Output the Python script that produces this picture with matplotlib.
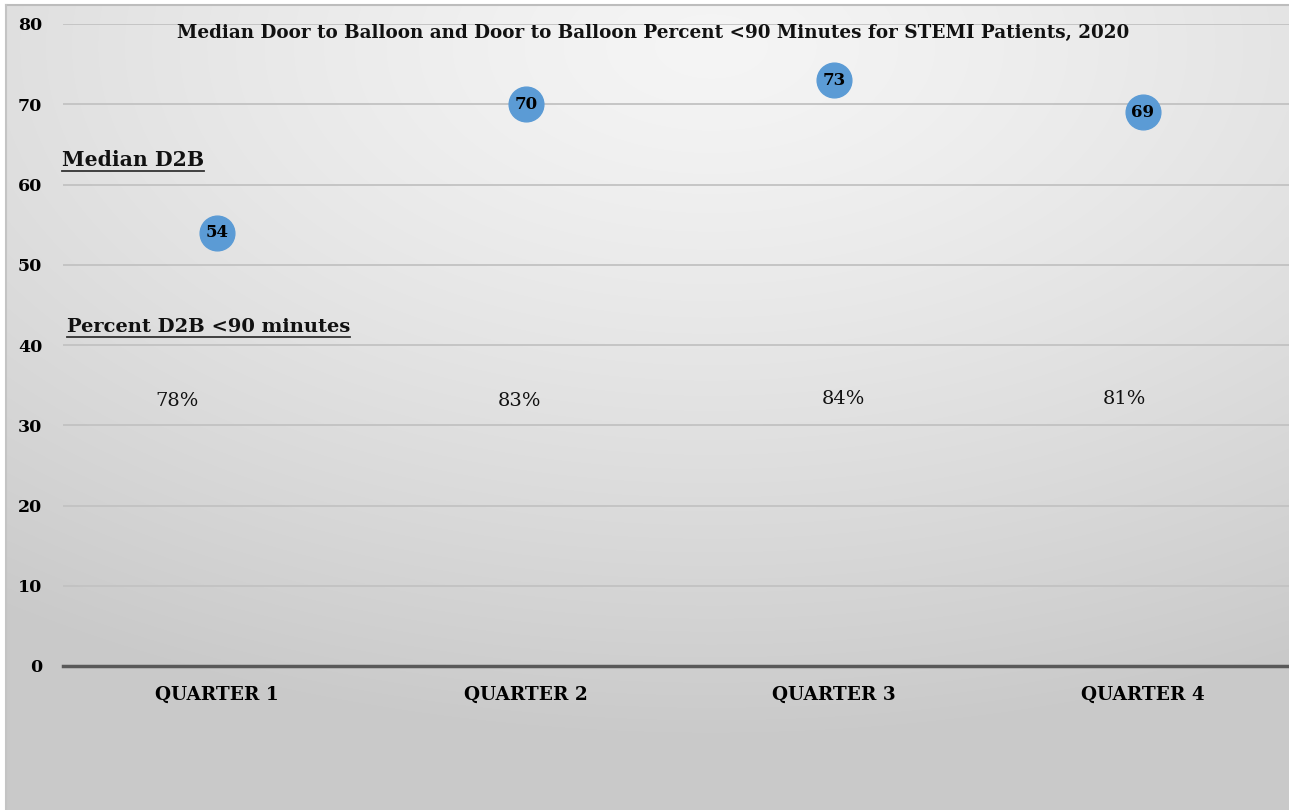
import numpy as np
from matplotlib import pyplot as plt
from matplotlib.lines import Line2D

quarters = ["QUARTER 1", "QUARTER 2", "QUARTER 3", "QUARTER 4"]
median_d2b = [54, 70, 73, 69]
pct_under90 = ["78%", "83%", "84%", "81%"]
pct_y = [33, 33, 33.3, 33.3]
pct_dx = [-0.13, -0.02, 0.03, -0.06]  # label nudges, in category units
yticks = [0, 10, 20, 30, 40, 50, 60, 70, 80]
title = "Median Door to Balloon and Door to Balloon Percent <90 Minutes for STEMI Patients, 2020"

plt.rcParams["font.family"] = ["DejaVu Serif"]
plt.rcParams["font.weight"] = "bold"

W, H = 1289, 810
fig = plt.figure(figsize=(W / 100, H / 100), dpi=100)
fig.patch.set_facecolor("white")

# slide background with soft radial gradient
bg = fig.add_axes([6 / W, 0, 1 - 6 / W, 1 - 5 / H])
yy, xx = np.mgrid[0:1:300j, 0:1:400j]
r = np.sqrt(((xx - 0.55) * 1.0) ** 2 + ((yy - 0.05) * 1.1) ** 2)
val = 0.96 - 0.17 * np.clip(r / 0.95, 0, 1) ** 1.3
bg.imshow(np.dstack([val, val, val]), extent=[0, 1, 1, 0], aspect="auto",
          interpolation="bicubic")
bg.set_xlim(0, 1)
bg.set_ylim(1, 0)
bg.axis("off")
# top/left edge of slide
fig.add_artist(Line2D([6 / W, 1], [1 - 5 / H] * 2, color="#bdbdbd", lw=1.5))
fig.add_artist(Line2D([6 / W] * 2, [0, 1 - 5 / H], color="#c4c4c4", lw=1.5))

# plot area: 0 at y=666, 80 at y=24; x from 63 to 1297
ax = fig.add_axes([63 / W, (H - 666) / H, (1297 - 63) / W, (666 - 24) / H])
ax.patch.set_alpha(0)
x = np.arange(len(quarters))
ax.set_xlim(-0.5, 3.5)
ax.set_ylim(0, 80)
ax.set_yticks(yticks)
ax.set_yticklabels([str(v) for v in yticks], fontsize=12.5, fontweight="bold")
ax.set_xticks(x)
ax.set_xticklabels(quarters, fontsize=13.3, fontweight="bold")
ax.tick_params(axis="y", length=0, pad=15)
ax.tick_params(axis="x", length=0, pad=14)
for s in ax.spines.values():
    s.set_visible(False)
ax.grid(axis="y", color="#c2c2c2", lw=1.3)
ax.set_axisbelow(True)
ax.axhline(0, color="#595959", lw=2.5, clip_on=False)

ax.plot(x, median_d2b, "o", ms=25, color="#5b9bd5", mec="#5b9bd5", zorder=3)
for xi, v in zip(x, median_d2b):
    ax.text(xi, v, str(v), ha="center", va="center", fontsize=12,
            fontweight="bold", color="black", zorder=4)

for xi, p, yv, dx in zip(x, pct_under90, pct_y, pct_dx):
    ax.text(xi + dx, yv, p, ha="center", va="center", fontsize=14,
            fontweight="normal", color="#111111")

fig.text(653 / W, 1 - 33 / H, title, ha="center", va="center", fontsize=13.2,
         fontweight="bold", color="#111111")

lab1 = fig.text(62 / W, 1 - 160 / H, "Median D2B", ha="left", va="center",
                fontsize=14.7, fontweight="bold", color="#111111")
lab2 = fig.text(67 / W, 1 - 327 / H, "Percent D2B <90 minutes", ha="left",
                va="center", fontsize=14, fontweight="bold", color="#111111")

# underline the two labels
fig.canvas.draw()
for t in (lab1, lab2):
    bb = t.get_window_extent()
    yline = bb.y0 - 1
    fig.add_artist(Line2D([bb.x0 / W, bb.x1 / W], [yline / H] * 2,
                          color="#333333", lw=1.3))

fig.savefig("out.png", dpi=100)
